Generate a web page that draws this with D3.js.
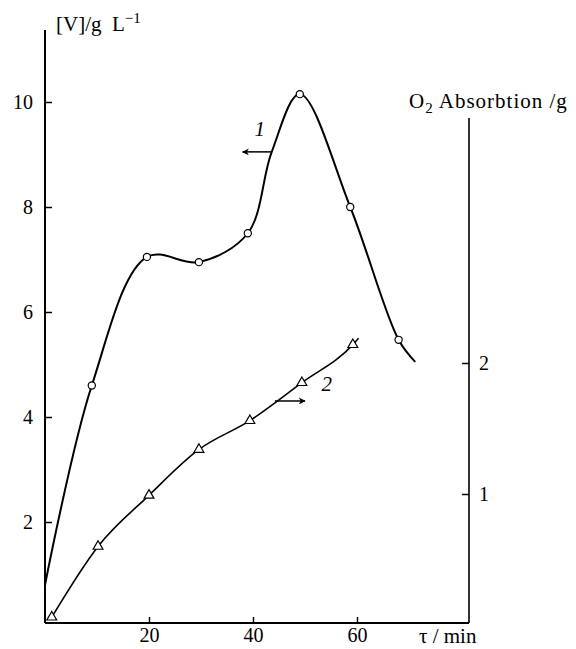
<!DOCTYPE html>
<html lang="en">
<head>
    <meta charset="UTF-8">
    <title>V and O2 absorption vs time</title>
    <script src="https://d3js.org/d3.v7.min.js"></script>
    <style>
        body { margin: 0; background: #fff; }
        text { font-family: "Liberation Serif", "Times New Roman", serif; fill: #000; }
    </style>
</head>
<body>
    <div id="chart"></div>

    <script>
        // Curve 1: [V], g/L (left axis) - line points and the marked measurements
        var curve1Line = [[0, 0.8], [9.0, 4.6], [19.6, 7.05], [29.6, 6.95], [39.0, 7.5],
                          [43.6, 9.05], [49.0, 10.15], [58.7, 8.0], [68.0, 5.47], [71.2, 5.05]];
        var curve1Marks = [[9.0, 4.6], [19.6, 7.05], [29.6, 6.95], [39.0, 7.5], [49.0, 10.15], [58.7, 8.0], [68.0, 5.47]];

        // Curve 2: O2 absorption, g (right axis)
        var curve2Line = [[1.3, 0.06], [10.2, 0.6], [20.0, 0.99], [29.6, 1.34], [39.4, 1.56], [49.4, 1.85], [59.2, 2.14], [60.3, 2.19]];
        var curve2Marks = [[1.3, 0.06], [10.2, 0.6], [20.0, 0.99], [29.6, 1.34], [39.4, 1.56], [49.4, 1.85], [59.2, 2.14]];

        var xTicks = [20, 40, 60];
        var yLeftTicks = [2, 4, 6, 8, 10];
        var yRightTicks = [1, 2];

        var W = 576, H = 649;
        var svg = d3.select("#chart").append("svg")
            .attr("width", W)
            .attr("height", H);

        var x = d3.scaleLinear().domain([0, 60]).range([45, 357]);
        var yL = d3.scaleLinear().domain([0, 10]).range([627, 102]);
        var yR = d3.scaleLinear().domain([0, 2]).range([625, 363]);

        var left = x(0), right = 469, bottom = 623;

        // frame lines
        svg.append("line").attr("x1", left).attr("x2", left).attr("y1", 30).attr("y2", bottom)
            .attr("stroke", "#000").attr("stroke-width", 2);
        svg.append("line").attr("x1", left).attr("x2", right).attr("y1", bottom).attr("y2", bottom)
            .attr("stroke", "#000").attr("stroke-width", 2);
        svg.append("line").attr("x1", right).attr("x2", right).attr("y1", 118).attr("y2", bottom)
            .attr("stroke", "#000").attr("stroke-width", 1.6);

        // axes
        var xAxis = svg.append("g")
            .attr("transform", "translate(0," + bottom + ")")
            .call(d3.axisBottom(x).tickValues(xTicks).tickSize(-6).tickPadding(5));
        var yAxisL = svg.append("g")
            .attr("transform", "translate(" + left + ",0)")
            .call(d3.axisLeft(yL).tickValues(yLeftTicks).tickSize(-7).tickPadding(12));
        var yAxisR = svg.append("g")
            .attr("transform", "translate(" + right + ",0)")
            .call(d3.axisRight(yR).tickValues(yRightTicks).tickFormat(d3.format("d")).tickSize(-7).tickPadding(10));

        [xAxis, yAxisL, yAxisR].forEach(function(g) {
            g.select(".domain").remove();
            g.selectAll(".tick line").attr("stroke", "#000").attr("stroke-width", 1.5);
            g.selectAll(".tick text")
                .attr("font-family", "Liberation Serif, serif")
                .attr("font-size", 20)
                .attr("fill", "#000");
        });

        // curves
        var line1 = d3.line()
            .x(function(d) { return x(d[0]); })
            .y(function(d) { return yL(d[1]); })
            .curve(d3.curveCatmullRom.alpha(0.5));
        var line2 = d3.line()
            .x(function(d) { return x(d[0]); })
            .y(function(d) { return yR(d[1]); })
            .curve(d3.curveMonotoneX);

        svg.append("path").datum(curve1Line)
            .attr("d", line1).attr("fill", "none")
            .attr("stroke", "#000").attr("stroke-width", 2);
        svg.append("path").datum(curve2Line)
            .attr("d", line2).attr("fill", "none")
            .attr("stroke", "#000").attr("stroke-width", 1.6);

        // markers: open circles (curve 1)
        svg.selectAll(".c1").data(curve1Marks).enter()
            .append("circle")
            .attr("class", "c1")
            .attr("cx", function(d) { return x(d[0]); })
            .attr("cy", function(d) { return yL(d[1]); })
            .attr("r", 3.6)
            .attr("fill", "#fff")
            .attr("stroke", "#000")
            .attr("stroke-width", 1.2);

        // markers: open triangles (curve 2)
        var tri = d3.symbol().type(d3.symbolTriangle).size(42);
        svg.selectAll(".t2").data(curve2Marks).enter()
            .append("path")
            .attr("class", "t2")
            .attr("d", tri)
            .attr("transform", function(d) { return "translate(" + x(d[0]) + "," + yR(d[1]) + ")"; })
            .attr("fill", "#fff")
            .attr("stroke", "#000")
            .attr("stroke-width", 1.2);

        // arrows pointing to the axis each curve belongs to
        svg.append("defs").append("marker")
            .attr("id", "head")
            .attr("viewBox", "0 0 10 10")
            .attr("refX", 9).attr("refY", 5)
            .attr("markerWidth", 10).attr("markerHeight", 7)
            .attr("markerUnits", "userSpaceOnUse")
            .attr("orient", "auto")
            .append("path").attr("d", "M0,0 L10,5 L0,10 L3,5 Z").attr("fill", "#000");

        svg.append("line")
            .attr("x1", x(43.6)).attr("y1", yL(9.05))
            .attr("x2", x(38.0)).attr("y2", yL(9.05))
            .attr("stroke", "#000").attr("stroke-width", 1.5)
            .attr("marker-end", "url(#head)");
        svg.append("line")
            .attr("x1", x(44.2)).attr("y1", yR(1.71))
            .attr("x2", x(50.0)).attr("y2", yR(1.71))
            .attr("stroke", "#000").attr("stroke-width", 1.5)
            .attr("marker-end", "url(#head)");

        svg.append("text")
            .attr("x", x(41.3)).attr("y", yL(9.35))
            .attr("text-anchor", "middle")
            .attr("font-size", 21).attr("font-style", "italic")
            .text("1");
        svg.append("text")
            .attr("x", x(54.2)).attr("y", yR(1.79))
            .attr("text-anchor", "middle")
            .attr("font-size", 21).attr("font-style", "italic")
            .text("2");

        // axis titles
        var t1 = svg.append("text").attr("x", 56).attr("y", 31).attr("font-size", 21);
        t1.append("tspan").text("[V]/g\u00a0\u00a0L");
        t1.append("tspan").attr("dy", -8).attr("font-size", 15).text("\u22121");

        var t2 = svg.append("text").attr("x", 409).attr("y", 108)
            .attr("font-size", 21).attr("letter-spacing", 1);
        t2.append("tspan").text("O");
        t2.append("tspan").attr("dy", 5).attr("font-size", 15).text("2");
        t2.append("tspan").attr("dy", -5).text(" Absorbtion /g");

        svg.append("text").attr("x", 419).attr("y", 643).attr("font-size", 21)
            .text("\u03c4 / min");
    </script>
</body>
</html>
